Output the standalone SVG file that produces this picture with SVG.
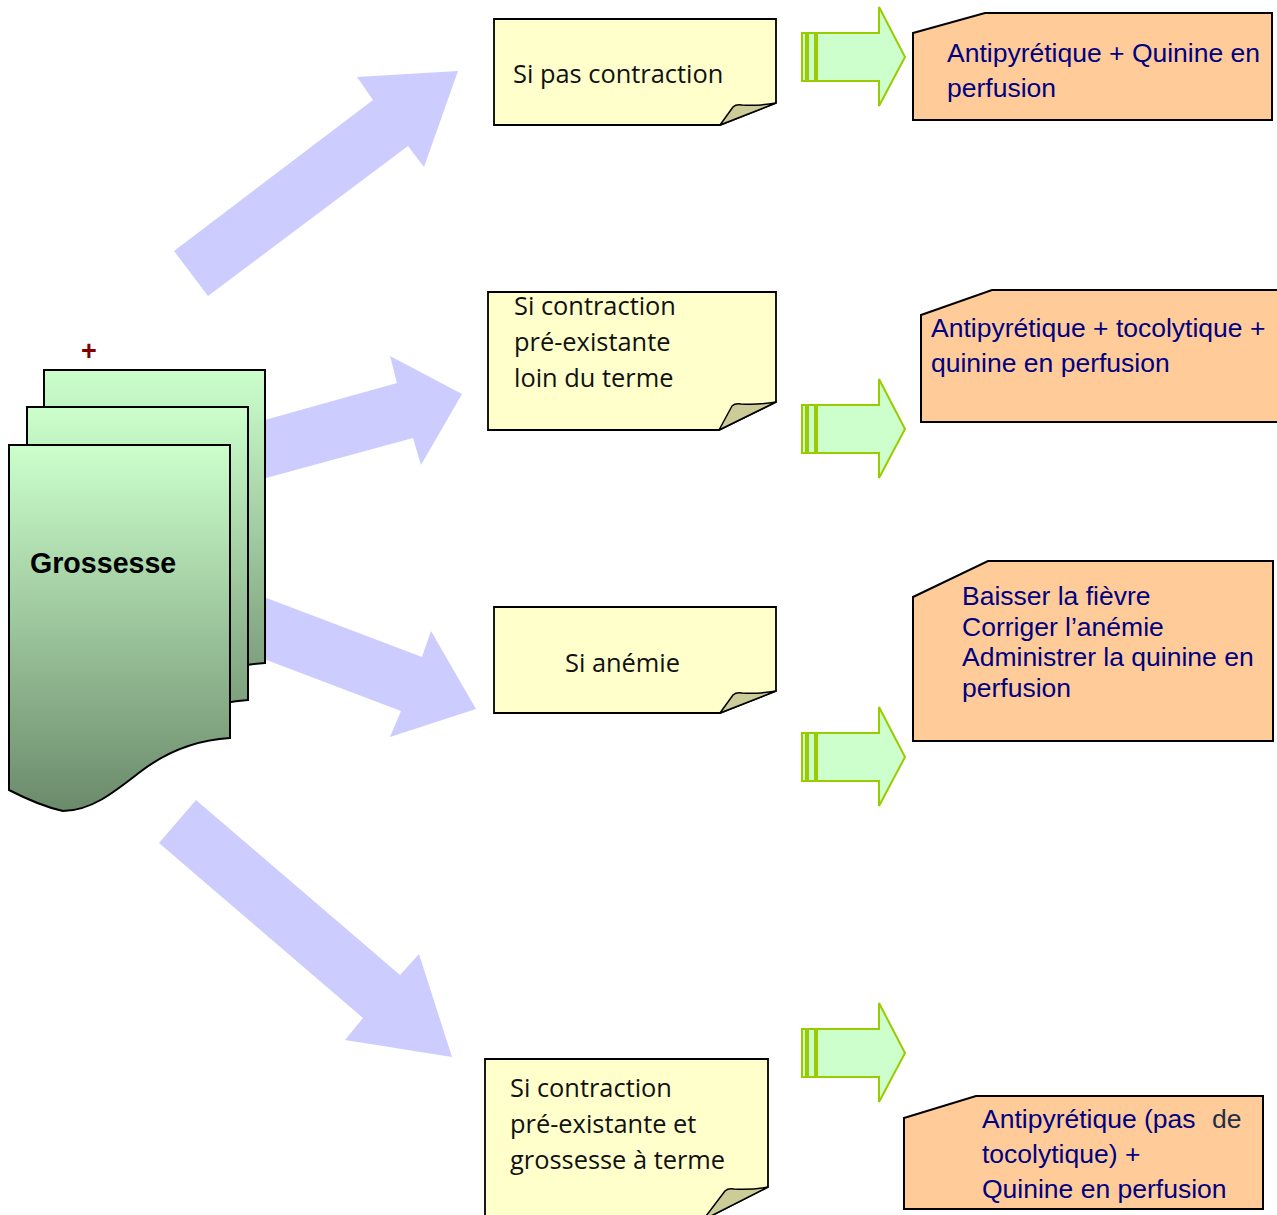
<svg xmlns="http://www.w3.org/2000/svg" xmlns:xlink="http://www.w3.org/1999/xlink" width="1277" height="1215" viewBox="0 0 1277 1215">
  <style>
    .big { fill: #ccccff; stroke: none; }
    .doc { stroke: #000; stroke-width: 2; fill: url(#docGrad); }
    .note { fill: #ffffcc; stroke: #000; stroke-width: 1.8; }
    .fold { fill: #cccc99; stroke: #000; stroke-width: 1.5; stroke-linejoin: round; }
    .act { fill: #ffcc99; stroke: #000; stroke-width: 2; }
    .ga { fill: #ccffcc; stroke: #99cc00; stroke-width: 2; }
    .nt { font-family: "Open Sans", "Noto Sans", sans-serif; font-size: 25.4px; fill: #111; }
    .at { font-family: "Liberation Sans", Arial, sans-serif; font-size: 26.5px; fill: #000080; }
    .title { font-family: "Liberation Sans", Arial, sans-serif; font-size: 28.6px; font-weight: bold; fill: #000; }
  </style>
  <defs>
    <linearGradient id="docGrad" x1="0" y1="0" x2="0" y2="1">
      <stop offset="0" stop-color="#ccffcc"/>
      <stop offset="1" stop-color="#6b8a6b"/>
    </linearGradient>
    <path id="docShape" d="M9,445 H230 V738 C196,740 166,752 140,772 C112,794 90,811 63,811 Q40,806 9,790 Z"/>
    <g id="garrow">
      <rect class="ga" x="802" y="-24" width="4" height="48"/>
      <rect class="ga" x="808" y="-24" width="7" height="48"/>
      <polygon class="ga" points="817,-24 879,-24 879,-50 905,0 879,49 879,24 817,24"/>
    </g>
  </defs>

  <!-- connectors: broad lavender arrows and striped green arrows -->
  <g id="connectors">
    <polygon class="big" points="174,251 373,100 357,77 458,71 424,167 408,146 208,296"/>
    <polygon class="big" points="240,427 397,383 390,356 462,394 421,465 413,438 240,485"/>
    <polygon class="big" points="240,588 422,657 431,631 476,709 390,737 401,711 240,650"/>
    <polygon class="big" points="196,800 400,975 419,954 452,1057 345,1040 363,1018 159,843"/>
    <use xlink:href="#garrow" href="#garrow" y="57"/>
    <use xlink:href="#garrow" href="#garrow" y="429"/>
    <use xlink:href="#garrow" href="#garrow" y="757"/>
    <use xlink:href="#garrow" href="#garrow" y="1053"/>
  </g>

  <!-- stacked documents -->
  <g id="grossesse">
    <text x="89" y="360" text-anchor="middle" font-family="Liberation Sans, Arial, sans-serif" font-size="27" font-weight="bold" fill="#800000">+</text>
    <use xlink:href="#docShape" href="#docShape" class="doc" transform="translate(35,-75)"/>
    <use xlink:href="#docShape" href="#docShape" class="doc" transform="translate(18,-38)"/>
    <use xlink:href="#docShape" href="#docShape" class="doc"/>
    <text class="title" x="30" y="573">Grossesse</text>
  </g>

  <!-- condition notes -->
  <g id="note-pas-contraction">
    <path class="note" d="M494,19 H776 V103 L720,125 H494 Z"/>
    <path class="fold" d="M720,125 L733,107 Q736,104 742,105 Q760,106 776,103 Z"/>
    <text class="nt" x="513" y="83">Si pas contraction</text>
  </g>
  <g id="note-loin-terme">
    <path class="note" d="M488,292 H776 V402 L719,430 H488 Z"/>
    <path class="fold" d="M719,430 L732,406 Q735,403 741,404 Q759,405 776,402 Z"/>
    <text class="nt" x="514" y="315">Si contraction</text>
    <text class="nt" x="514" y="351">pré-existante</text>
    <text class="nt" x="514" y="387">loin du terme</text>
  </g>
  <g id="note-anemie">
    <path class="note" d="M494,607 H776 V691 L720,713 H494 Z"/>
    <path class="fold" d="M720,713 L733,695 Q736,692 742,693 Q760,694 776,691 Z"/>
    <text class="nt" x="565" y="672">Si anémie</text>
  </g>
  <g id="note-a-terme">
    <path class="note" d="M485,1059 H768 V1187 L703,1220 H485 Z"/>
    <path class="fold" d="M703,1220 L725,1191 Q728,1188 734,1189 Q752,1190 768,1187 Z"/>
    <text class="nt" x="510" y="1097">Si contraction</text>
    <text class="nt" x="510" y="1133">pré-existante et</text>
    <text class="nt" x="510" y="1169">grossesse à terme</text>
  </g>

  <!-- treatment boxes -->
  <g id="ttt-1">
    <path class="act" d="M913,33 L985,13 H1272 V120 H913 Z"/>
    <text class="at" x="947" y="62">Antipyrétique + Quinine en</text>
    <text class="at" x="947" y="97">perfusion</text>
  </g>
  <g id="ttt-2">
    <path class="act" d="M921,315 L992,290 H1282 V422 H921 Z"/>
    <text class="at" x="931" y="337">Antipyrétique + tocolytique +</text>
    <text class="at" x="931" y="372">quinine en perfusion</text>
  </g>
  <g id="ttt-3">
    <path class="act" d="M913,597 L988,561 H1273 V741 H913 Z"/>
    <text class="at" x="962" y="605">Baisser la fièvre</text>
    <text class="at" x="962" y="636">Corriger l’anémie</text>
    <text class="at" x="962" y="666">Administrer la quinine en</text>
    <text class="at" x="962" y="697">perfusion</text>
  </g>
  <g id="ttt-4">
    <path class="act" d="M904,1118 L976,1096 H1263 V1209 H904 Z"/>
    <text class="at" x="982" y="1128">Antipyrétique (pas<tspan x="1212" fill="#1f2f45">de</tspan></text>
    <text class="at" x="982" y="1163">tocolytique) +</text>
    <text class="at" x="982" y="1198">Quinine en perfusion</text>
  </g>
</svg>
